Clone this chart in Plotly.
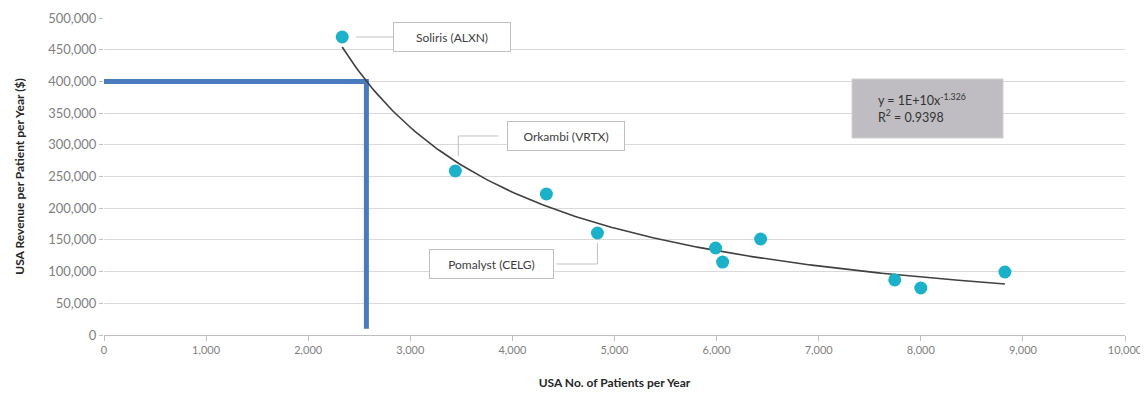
import numpy as np
import plotly.graph_objects as go

# ---- data ----
patients = [2333, 3441, 4333, 4833, 5990, 6059, 6431, 7745, 8000, 8824]
revenue = [470000, 258700, 222400, 160900, 137200, 115100, 151400, 86800, 74100, 99400]
labelled = {"Soliris (ALXN)": 0, "Orkambi (VRTX)": 1, "Pomalyst (CELG)": 3}
target_patients = 2570
target_revenue = 400000
target_floor = 10000
x_ticks = list(range(0, 10001, 1000))
y_ticks = list(range(0, 500001, 50000))
eq_text = "y = 1E+10x<sup>-1.326</sup><br>R<sup>2</sup> = 0.9398"

# ---- power trendline fitted from the data ----
lx, ly = np.log(patients), np.log(revenue)
b, lna = np.polyfit(lx, ly, 1)
xs = np.linspace(min(patients), max(patients), 200)
ys = np.exp(lna) * xs ** b

FONT = "Lato"
fig = go.Figure()

# target L-shape
fig.add_trace(go.Scatter(
    x=[0, target_patients, target_patients],
    y=[target_revenue, target_revenue, target_floor],
    mode="lines", line=dict(color="#4a7bbf", width=5), hoverinfo="skip", showlegend=False))

# trendline
fig.add_trace(go.Scatter(x=xs, y=ys, mode="lines",
                         line=dict(color="#404040", width=1.6), showlegend=False))

# points
fig.add_trace(go.Scatter(x=patients, y=revenue, mode="markers",
                         marker=dict(color="#1bb1c9", size=13), showlegend=False))

# labelled callouts: (xshift, yshift, connector segments as pixel offsets)
callouts = {
    "Soliris (ALXN)": (110, 0, [((14, 0), (51, 0))]),
    "Orkambi (VRTX)": (111, 35, [((43, 35), (3, 35)), ((3, 35), (3, 15))]),
    "Pomalyst (CELG)": (-106, -31, [((-41, -31), (0, -31)), ((0, -31), (0, -10))]),
}
for name, idx in labelled.items():
    px, py = patients[idx], revenue[idx]
    xsft, ysft, segs = callouts[name]
    for (x0, y0), (x1, y1) in segs:
        fig.add_shape(type="line", xref="x", yref="y",
                      xsizemode="pixel", ysizemode="pixel",
                      xanchor=px, yanchor=py, x0=x0, x1=x1, y0=y0, y1=y1,
                      line=dict(color="#bfbfbf", width=1))
    fig.add_annotation(x=px, y=py, xref="x", yref="y", text=name, showarrow=False,
                       xshift=xsft, yshift=ysft,
                       font=dict(family=FONT, size=12, color="#404040"),
                       bgcolor="white", bordercolor="#bfbfbf", borderwidth=1,
                       borderpad=4, width=max(100, len(name) * 7 + 10), height=20)

# equation box
fig.add_shape(type="rect", xref="paper", yref="paper",
              x0=(852 - 104) / 1021, x1=(1003 - 104) / 1021,
              y0=(335 - 138) / 317, y1=(335 - 79) / 317,
              fillcolor="#bfbdc1", line=dict(color="#d0d0d0", width=1), layer="above")
fig.add_annotation(xref="paper", yref="paper", x=(876 - 104) / 1021, y=(335 - 108) / 317,
                   xanchor="left", yanchor="middle", align="left", showarrow=False,
                   text=eq_text, font=dict(family=FONT, size=12.5, color="#333333"))

# the page body adds an 8px offset, so the figure is sized to fit the window
fig.update_layout(
    width=1140, height=386,
    margin=dict(l=96, r=23, t=10, b=59),
    paper_bgcolor="white", plot_bgcolor="white",
    font=dict(family=FONT, size=11, color="#7f7f7f"),
    showlegend=False,
)
fig.update_xaxes(
    range=[0, 10000], tickvals=x_ticks, ticktext=[f"{v:,}" for v in x_ticks],
    automargin=False,
    showgrid=False, zeroline=False, showline=True, linecolor="#bfbfbf", linewidth=1,
    ticks="outside", ticklen=5, tickcolor="#bfbfbf",
    tickfont=dict(family=FONT, size=11, color="#7f7f7f"),
    title=dict(text="<b>USA No. of Patients per Year</b>", standoff=23,
               font=dict(family=FONT, size=12, color="#262626")),
)
fig.update_yaxes(
    range=[0, 500000], tickvals=y_ticks, ticktext=[f"{v:,}" for v in y_ticks],
    automargin=False,
    showgrid=True, gridcolor="#d9d9d9", gridwidth=1, zeroline=False, showline=False,
    ticks="outside", ticklen=4, tickcolor="#bfbfbf",
    tickfont=dict(family=FONT, size=13, color="#7f7f7f"),
    title=dict(text="<b>USA Revenue per Patient per Year ($)</b>", standoff=20,
               font=dict(family=FONT, size=12, color="#262626")),
)

fig.write_html("out.html")
